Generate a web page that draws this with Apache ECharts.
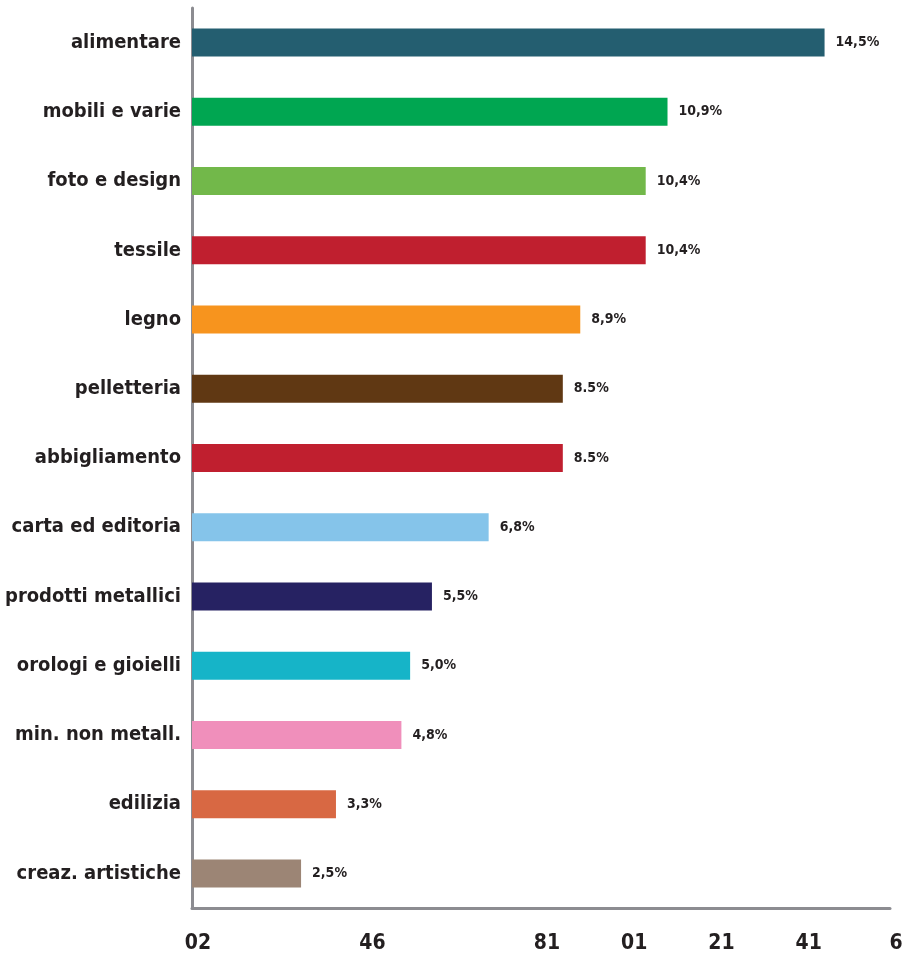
<!DOCTYPE html>
<html>
<head>
<meta charset="utf-8">
<script src="https://cdn.jsdelivr.net/npm/echarts@6/dist/echarts.min.js"></script>
<style>
  html, body { margin: 0; padding: 0; background: #ffffff; }
  #chart { width: 907px; height: 960px; }
</style>
</head>
<body>
<div id="chart"></div>
<script>
// Sectors, top to bottom
const categories = [
  'alimentare', 'mobili e varie', 'foto e design', 'tessile', 'legno',
  'pelletteria', 'abbigliamento', 'carta ed editoria', 'prodotti metallici',
  'orologi e gioielli', 'min. non metall.', 'edilizia', 'creaz. artistiche'
];
// Share of each sector (%)
const values = [14.5, 10.9, 10.4, 10.4, 8.9, 8.5, 8.5, 6.8, 5.5, 5.0, 4.8, 3.3, 2.5];
// Printed value labels
const valueLabels = ['14,5%', '10,9%', '10,4%', '10,4%', '8,9%', '8.5%', '8.5%', '6,8%', '5,5%', '5,0%', '4,8%', '3,3%', '2,5%'];
// Bar colours
const barColors = [
  '#245e70', '#00a651', '#72b84a', '#c01f2f', '#f7941e',
  '#603813', '#c01f2f', '#85c4ea', '#262262', '#16b4c8',
  '#f08fbb', '#d86843', '#9c8575'
];
// Horizontal axis tick labels, keyed by axis value
const tickValues = [0, 4, 8, 10, 12, 14, 16];
const tickLabels = ['02', '46', '81', '01', '21', '41', '6'];

const FONT = '"DejaVu Sans Condensed", "Liberation Sans Narrow", sans-serif';

const chart = echarts.init(document.getElementById('chart'), null, { renderer: 'canvas' });

chart.setOption({
  animation: false,
  backgroundColor: '#ffffff',
  grid: { left: 192, right: 17, top: 8, bottom: 52, outerBoundsMode: 'none', containLabel: false },
  xAxis: {
    type: 'value',
    min: 0,
    max: 16,
    interval: 2,
    splitLine: { show: false },
    axisTick: { show: false },
    axisLine: { show: true, lineStyle: { color: '#8c8c91', width: 3 } },
    axisLabel: {
      margin: 25,
      padding: [0, 0, 0, 12],
      fontFamily: FONT,
      fontSize: 21,
      fontWeight: 'bold',
      color: '#231f20',
      showMinLabel: true,
      showMaxLabel: true,
      hideOverlap: false,
      formatter: function (v) {
        const i = tickValues.indexOf(Math.round(v));
        return i >= 0 ? tickLabels[i] : '';
      }
    }
  },
  yAxis: {
    type: 'category',
    inverse: true,
    data: categories,
    axisTick: { show: false },
    axisLine: { show: true, lineStyle: { color: '#8c8c91', width: 3 } },
    axisLabel: {
      margin: 11,
      fontFamily: FONT,
      fontSize: 20,
      fontWeight: 'bold',
      color: '#231f20'
    }
  },
  series: [{
    type: 'bar',
    barWidth: 28,
    data: values.map((v, i) => ({ value: v, itemStyle: { color: barColors[i] } })),
    label: {
      show: true,
      position: 'right',
      distance: 11,
      fontFamily: FONT,
      fontSize: 14,
      fontWeight: 'bold',
      color: '#231f20',
      formatter: p => valueLabels[p.dataIndex]
    }
  }]
});
</script>
</body>
</html>
